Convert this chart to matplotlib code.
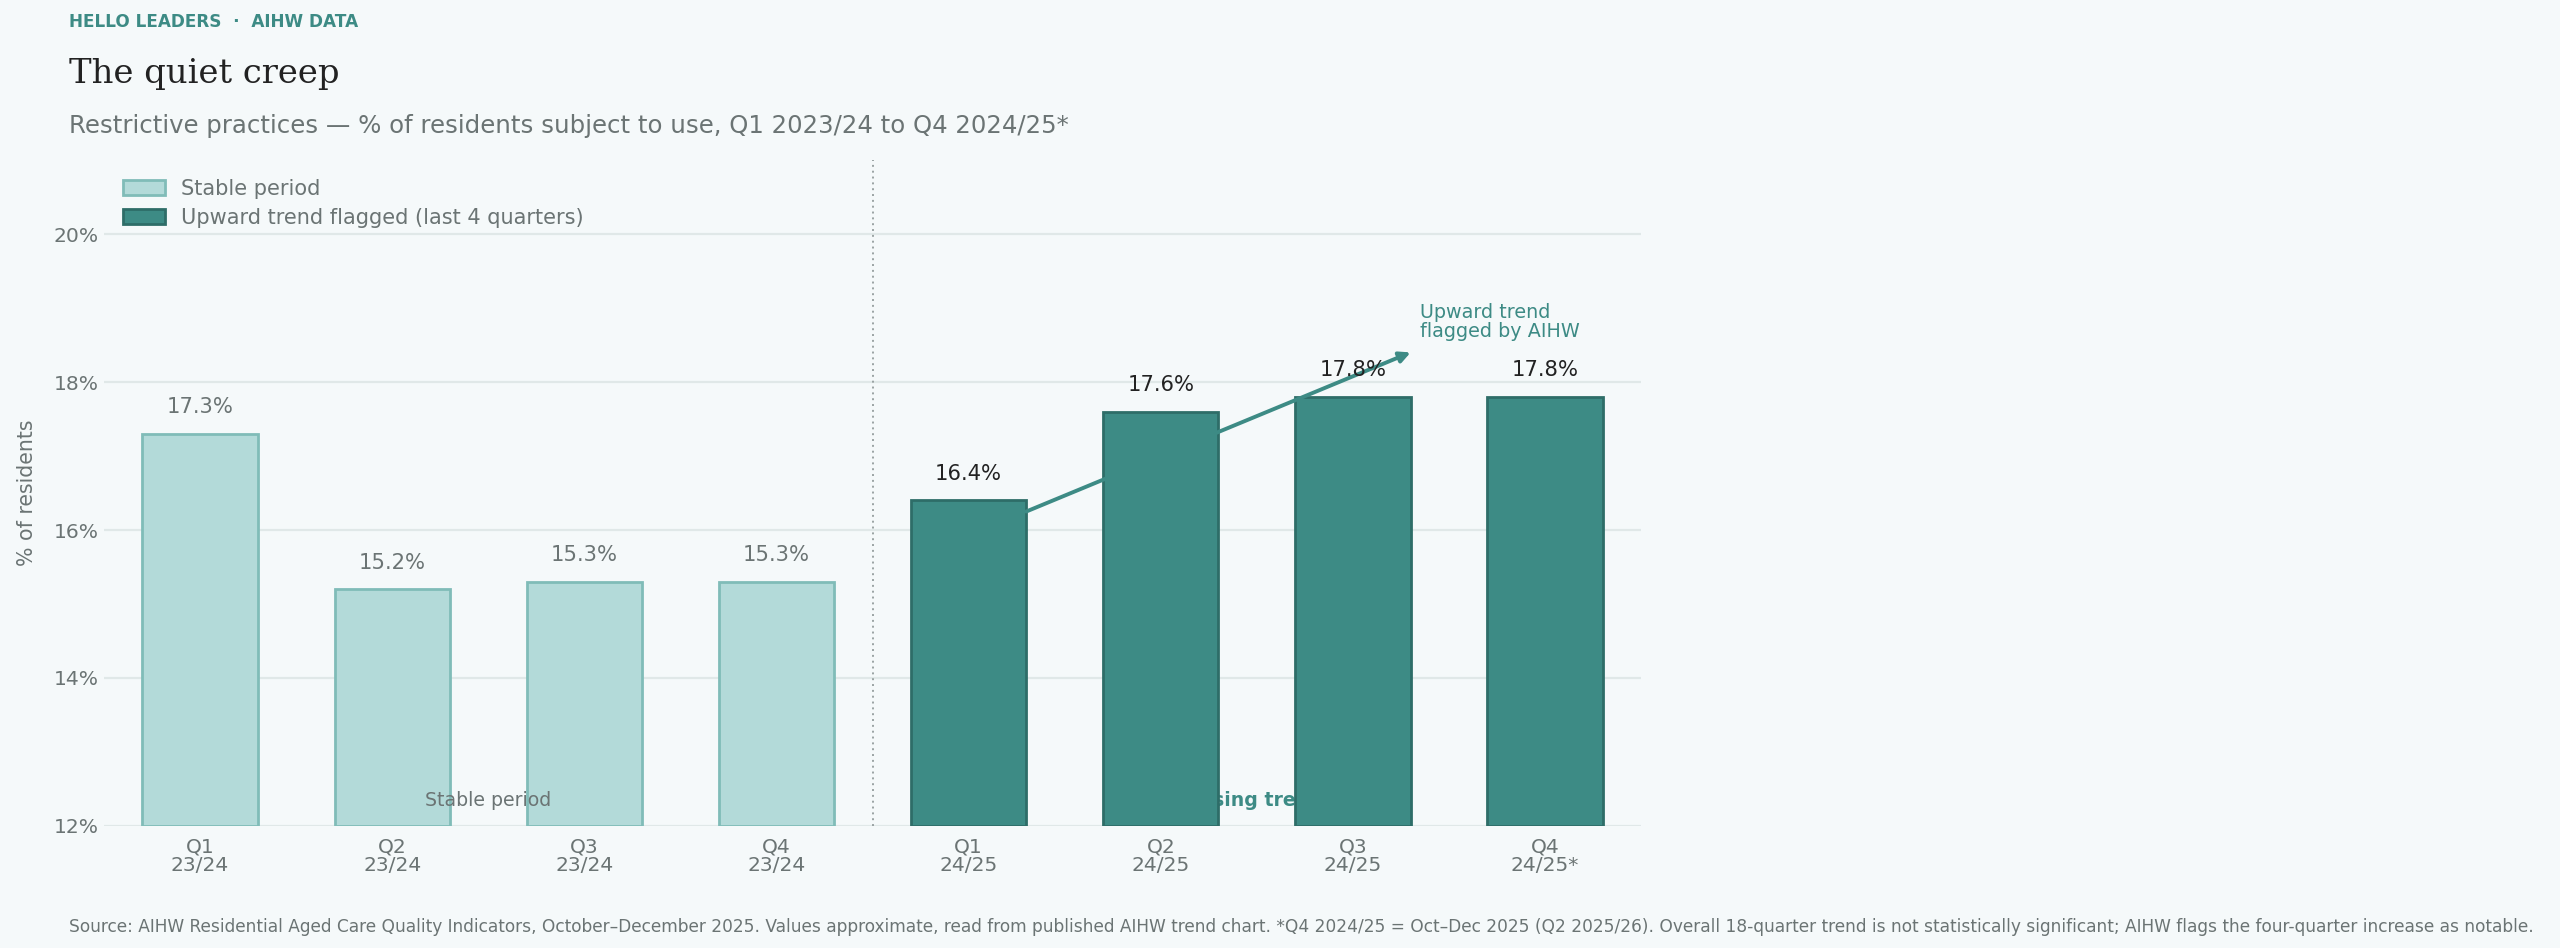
import matplotlib
matplotlib.use("Agg")
import matplotlib.pyplot as plt
from matplotlib.patches import Patch
from matplotlib.ticker import FuncFormatter

# data
quarters = ["Q1\n23/24", "Q2\n23/24", "Q3\n23/24", "Q4\n23/24",
            "Q1\n24/25", "Q2\n24/25", "Q3\n24/25", "Q4\n24/25*"]
values = [17.3, 15.2, 15.3, 15.3, 16.4, 17.6, 17.8, 17.8]
flagged = [False, False, False, False, True, True, True, True]
yticks = [12, 14, 16, 18, 20]

BG = "#f5f9fa"
TEAL = "#3d8b85"
TEAL_EDGE = "#2e6d68"
LIGHT = "#b3dad9"
LIGHT_EDGE = "#80bcb8"
GREY = "#6b7474"
DARK = "#222222"

plt.rcParams['font.family'] = ['DejaVu Sans']

fig = plt.figure(figsize=(12.8, 4.74), dpi=200, facecolor=BG)
ax = fig.add_axes([0.0406, 0.1287, 0.6005, 0.7025])
ax.set_facecolor(BG)

x = list(range(len(values)))
fills = [TEAL if f else LIGHT for f in flagged]
edges = [TEAL_EDGE if f else LIGHT_EDGE for f in flagged]
ax.bar(x, [v - 12 for v in values], bottom=12, width=0.6, color=fills,
       edgecolor=edges, linewidth=1.0, zorder=2)

for xi, v, f in zip(x, values, flagged):
    ax.annotate(f"{v:.1f}%", (xi, v), xytext=(0, 6), textcoords="offset points",
                ha="center", va="bottom", fontsize=7.6,
                color=DARK if f else GREY, zorder=4)

ax.set_xlim(-0.5, 7.5)
ax.set_ylim(12, 21)
ax.set_yticks(yticks)
ax.yaxis.set_major_formatter(FuncFormatter(lambda v, p: f"{v:.0f}%"))
ax.set_xticks(x)
ax.set_xticklabels(quarters, linespacing=1.0)
ax.tick_params(length=0, labelsize=7.3, colors=GREY)
ax.tick_params(axis="y", pad=2)
ax.tick_params(axis="x", pad=4)
ax.grid(axis="y", color="#e0e8e8", linewidth=0.8)
ax.set_axisbelow(True)
for s in ax.spines.values():
    s.set_visible(False)
ax.set_ylabel("% of residents", fontsize=7.4, color=GREY, labelpad=6)

# divider between periods
ax.axvline(3.5, color="#9aa3a3", linestyle=(0, (1, 2)), linewidth=0.7, zorder=1)

ax.text(1.5, 12.35, "Stable period", ha="center", va="center", fontsize=6.8,
        color=GREY, zorder=3)
ax.text(5.5, 12.35, "Rising trend", ha="center", va="center", fontsize=6.8,
        color=TEAL, fontweight="bold", zorder=1.5)

ax.annotate("", xy=(6.3, 18.4), xytext=(4.3, 16.25),
            arrowprops=dict(arrowstyle="-|>", color=TEAL, lw=1.4,
                            mutation_scale=8, shrinkA=0, shrinkB=0), zorder=3)
ax.text(6.35, 18.55, "Upward trend\nflagged by AIHW", ha="left", va="bottom",
        fontsize=6.9, color=TEAL, linespacing=1.0)

handles = [Patch(facecolor=LIGHT, edgecolor=LIGHT_EDGE, label="Stable period"),
           Patch(facecolor=TEAL, edgecolor=TEAL_EDGE,
                 label="Upward trend flagged (last 4 quarters)")]
leg = ax.legend(handles=handles, loc="upper left", bbox_to_anchor=(0.003, 0.994),
                frameon=False, fontsize=7.5, labelcolor=GREY,
                handlelength=2.0, handleheight=0.75, borderaxespad=0.3,
                labelspacing=0.45)

fig.text(0.027, 0.986, "HELLO LEADERS  ·  AIHW DATA", ha="left", va="top",
         fontsize=6.1, fontweight="bold", color=TEAL)
fig.text(0.027, 0.939, "The quiet creep", ha="left", va="top",
         fontsize=12.2, family="DejaVu Serif", color=DARK)
fig.text(0.027, 0.880, "Restrictive practices — % of residents subject to use, "
         "Q1 2023/24 to Q4 2024/25*", ha="left", va="top", fontsize=8.8, color=GREY)
fig.text(0.027, 0.013,
         "Source: AIHW Residential Aged Care Quality Indicators, October–December 2025. "
         "Values approximate, read from published AIHW trend chart. *Q4 2024/25 = "
         "Oct–Dec 2025 (Q2 2025/26). Overall 18-quarter trend is not statistically "
         "significant; AIHW flags the four-quarter increase as notable.",
         ha="left", va="bottom", fontsize=6.15, color=GREY)

fig.savefig("out.png", dpi=200, facecolor=BG)
